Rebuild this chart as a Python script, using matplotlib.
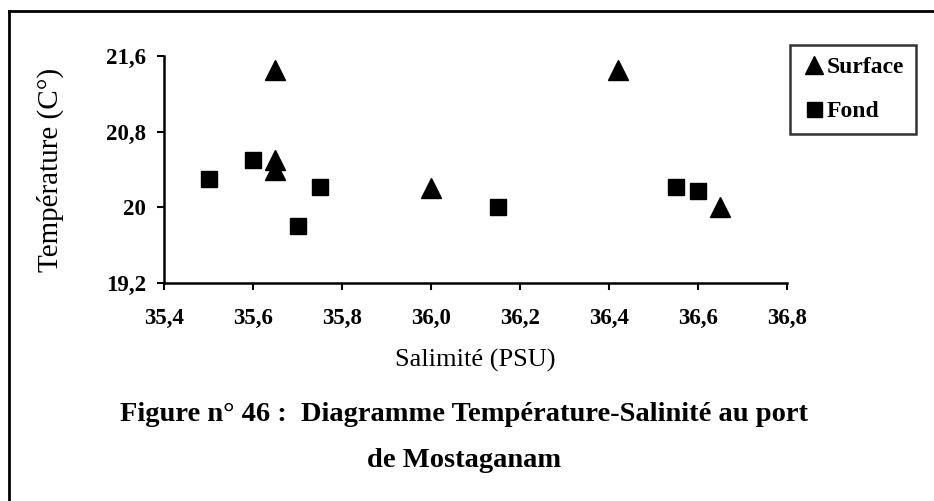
import matplotlib.pyplot as plt
from matplotlib.lines import Line2D

# salinity (PSU) / temperature (°C) pairs at the port
surface_sal = [35.65, 35.65, 35.65, 36.00, 36.42, 36.65]
surface_temp = [21.45, 20.50, 20.40, 20.20, 21.45, 20.00]

fond_sal = [35.50, 35.60, 35.70, 35.75, 36.15, 36.55, 36.60]
fond_temp = [20.30, 20.50, 19.80, 20.22, 20.00, 20.22, 20.17]

xticks = [35.4, 35.6, 35.8, 36.0, 36.2, 36.4, 36.6, 36.8]
xtick_labels = ["35,4", "35,6", "35,8", "36,0", "36,2", "36,4", "36,6", "36,8"]
yticks = [19.2, 20.0, 20.8, 21.6]
ytick_labels = ["19,2", "20", "20,8", "21,6"]

plt.rcParams['font.family'] = ['Liberation Serif', 'DejaVu Serif']

fig = plt.figure(figsize=(9.34, 5.01), dpi=100)
ax = fig.add_axes([0.1756, 0.4351, 0.667, 0.4531])

ax.plot(surface_sal, surface_temp, linestyle='none', marker='^', markersize=14,
        color='black', label='Surface')
ax.plot(fond_sal, fond_temp, linestyle='none', marker='s', markersize=12,
        color='black', label='Fond')

ax.set_xlim(35.4, 36.8)
ax.set_ylim(19.2, 21.6)
ax.set_xticks(xticks)
ax.set_xticklabels(xtick_labels, fontsize=16.5, fontweight='bold')
ax.set_yticks(yticks)
ax.set_yticklabels(ytick_labels, fontsize=16.5, fontweight='bold')
ax.tick_params(axis='both', direction='out', length=5, width=1.5, colors='black')
ax.tick_params(axis='x', pad=13)
ax.tick_params(axis='y', pad=8)

for side in ('top', 'right'):
    ax.spines[side].set_visible(False)
for side in ('left', 'bottom'):
    ax.spines[side].set_linewidth(1.8)

ax.set_xlabel("Salimité (PSU)", fontsize=19, labelpad=14)
ax.set_ylabel("Température (C°)", fontsize=21, labelpad=30)

leg = ax.legend(loc='upper left', bbox_to_anchor=(1.005, 1.05), frameon=True,
                fancybox=False, prop={'size': 17, 'weight': 'bold'},
                handletextpad=0.05, handlelength=1.0, labelspacing=0.95,
                borderpad=0.5, borderaxespad=0.0, markerscale=0.9)
leg.get_frame().set_edgecolor('black')
leg.get_frame().set_linewidth(1.8)

fig.text(0.497, 0.172, "Figure n° 46 :  Diagramme Température-Salinité au port",
         ha='center', va='center', fontsize=20.5, fontweight='bold')
fig.text(0.497, 0.08, "de Mostaganam",
         ha='center', va='center', fontsize=20.5, fontweight='bold')

# page frame around the figure
fig.add_artist(Line2D([0.0096, 0.0096], [0.0, 0.978], transform=fig.transFigure,
                      color='black', linewidth=2))
fig.add_artist(Line2D([0.0096, 1.0], [0.978, 0.978], transform=fig.transFigure,
                      color='black', linewidth=2))

fig.savefig("out.png", dpi=100)
